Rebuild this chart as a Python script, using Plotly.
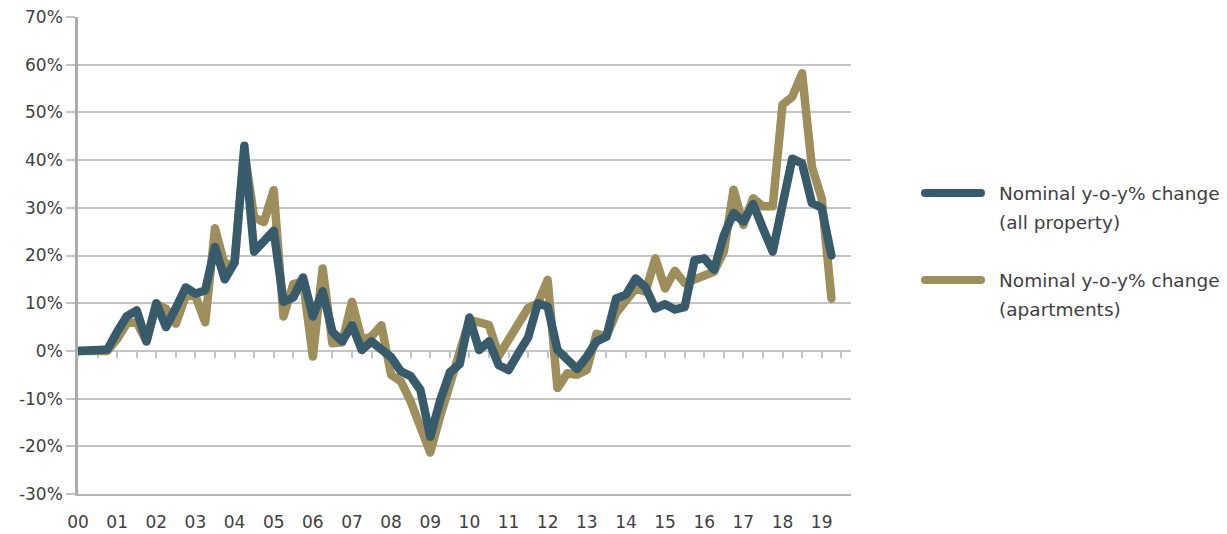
import plotly.graph_objects as go

# ---------------- data ----------------
quarters = [f"{2000 + i // 4}Q{i % 4 + 1}" for i in range(78)]  # 2000Q1 .. 2019Q2
year_labels = ["00", "01", "02", "03", "04", "05", "06", "07", "08", "09",
               "10", "11", "12", "13", "14", "15", "16", "17", "18", "19"]
y_tick_vals = [-30, -20, -10, 0, 10, 20, 30, 40, 50, 60, 70]
y_tick_text = ["-30%", "-20%", "-10%", "0%", "10%", "20%", "30%", "40%", "50%", "60%", "70%"]

all_property = [
    0.0, 0.0, 0.0, 0.3, 4.0, 7.3, 8.5, 2.0, 10.0, 5.0,
    9.0, 13.3, 12.0, 12.7, 21.8, 15.0, 18.5, 43.0, 20.8, 23.0,
    25.2, 10.3, 11.2, 15.4, 7.2, 12.5, 4.0, 2.0, 5.4, 0.2,
    2.0, 0.3, -1.3, -4.3, -5.3, -8.2, -18.0, -10.5, -4.5, -2.8,
    7.0, 0.2, 2.0, -3.0, -4.0, -0.5, 2.8, 10.0, 9.3, 0.2,
    -2.0, -3.8, -1.2, 2.0, 3.0, 11.0, 11.8, 15.2, 13.3, 8.9,
    9.8, 8.7, 9.2, 19.0, 19.4, 17.0, 24.2, 28.9, 27.1, 30.8,
    25.7, 20.8, 30.6, 40.3, 39.3, 31.0, 30.0, 20.0,
]
apartments = [
    0.0, 0.0, 0.0, 0.0, 2.5, 5.8, 6.0, 2.0, 9.8, 8.8,
    5.7, 11.5, 11.5, 6.0, 25.7, 18.0, 18.5, 42.0, 28.0, 27.0,
    33.7, 7.2, 14.0, 14.5, -1.2, 17.3, 1.6, 1.8, 10.3, 2.3,
    3.0, 5.4, -5.0, -6.4, -10.6, -15.9, -21.3, -13.8, -6.8, -1.2,
    6.5, 6.0, 5.4, -1.0, 2.3, 5.4, 9.0, 10.0, 14.9, -7.8,
    -4.7, -5.0, -4.0, 3.6, 3.0, 7.9, 10.3, 13.1, 12.4, 19.4,
    13.1, 16.8, 14.2, 14.9, 15.5, 16.6, 20.8, 33.8, 26.4, 32.0,
    30.3, 30.3, 51.6, 53.3, 58.2, 38.6, 32.0, 11.0,
]
series_names = ["Nominal y-o-y% change (all property)",
                "Nominal y-o-y% change (apartments)"]

# ---------------- styling ----------------
BLUE = "#385B6C"
GOLD = "#9D8E5C"
TEXT = "#404040"
GRID = "#C4C4C4"
AXIS = "#ABABAB"
FONT = "DejaVu Sans"

W, H = 1227, 534
ML, MR, MT, MB = 78, 376, 17, 40
PW, PH = W - ML - MR, H - MT - MB

def px_x(x):
    return (x - ML) / PW

def px_y(y):
    return (H - MB - y) / PH

x_idx = list(range(len(quarters)))
x_max = 79  # axis extends to 2019Q4

fig = go.Figure()
fig.add_trace(go.Scatter(
    x=x_idx, y=apartments, mode="lines", name=series_names[1],
    line=dict(color=GOLD, width=8.5), showlegend=False,
    customdata=quarters, hovertemplate="%{customdata}: %{y:.1f}%<extra></extra>",
))
fig.add_trace(go.Scatter(
    x=x_idx, y=all_property, mode="lines", name=series_names[0],
    line=dict(color=BLUE, width=8.5), showlegend=False, xaxis="x2",
    customdata=quarters, hovertemplate="%{customdata}: %{y:.1f}%<extra></extra>",
))

zero_pos = (0 - y_tick_vals[0]) / (y_tick_vals[-1] - y_tick_vals[0])

fig.update_layout(
    width=W, height=H, autosize=False,
    margin=dict(l=ML, r=MR, t=MT, b=MB, pad=0, autoexpand=False),
    paper_bgcolor="white", plot_bgcolor="white",
    font=dict(family=FONT, size=17, color=TEXT),
    showlegend=False,
    xaxis=dict(
        range=[0, x_max], tickmode="array",
        tickvals=x_idx[::4], ticktext=year_labels,
        showgrid=False, zeroline=False, automargin=False,
        showline=True, linecolor="#B4B4B4", linewidth=2,
        ticks="outside", ticklen=12, tickcolor="rgba(0,0,0,0)",
        tickfont=dict(family=FONT, size=17, color=TEXT),
        layer="below traces",
    ),
    xaxis2=dict(
        range=[0, x_max], overlaying="x", anchor="free", position=zero_pos,
        side="bottom", tickmode="array", tickvals=list(range(0, x_max, 2)),
        showticklabels=False, showgrid=False, zeroline=False, automargin=False,
        showline=True, linecolor=GRID, linewidth=2,
        ticks="outside", ticklen=6, tickwidth=1.5, tickcolor=GRID,
        layer="below traces",
    ),
    yaxis=dict(
        range=[y_tick_vals[0], y_tick_vals[-1]], tickmode="array",
        tickvals=y_tick_vals, ticktext=y_tick_text,
        showgrid=True, gridcolor=GRID, gridwidth=1.5, zeroline=False,
        automargin=False,
        showline=True, linecolor=AXIS, linewidth=2.5,
        ticks="outside", ticklen=9, tickwidth=1.5, tickcolor=GRID,
        tickfont=dict(family=FONT, size=17, color=TEXT),
        layer="below traces",
    ),
)

# custom legend (long line samples like the original)
legend_items = [
    (BLUE, ["Nominal y-o-y% change", "(all property)"], 193),
    (GOLD, ["Nominal y-o-y% change", "(apartments)"], 280),
]
for color, lines, ypix in legend_items:
    fig.add_shape(type="line", xref="paper", yref="paper",
                  x0=px_x(925), x1=px_x(981), y0=px_y(ypix), y1=px_y(ypix),
                  line=dict(color=color, width=8))
    for k, txt in enumerate(lines):
        fig.add_annotation(xref="paper", yref="paper",
                           x=px_x(997), y=px_y(ypix + 29 * k),
                           xanchor="left", yanchor="middle", showarrow=False,
                           text=txt, font=dict(family=FONT, size=18.5, color=TEXT))

post = (
    "document.body.style.margin='0';document.body.style.overflow='hidden';"
    "document.querySelectorAll('.scatterlayer path.js-line, .shapelayer path')"
    ".forEach(function(p){p.style.strokeLinejoin='round';p.style.strokeLinecap='round';});"
)
fig.write_html("out.html", config={"displayModeBar": False}, post_script=post)
